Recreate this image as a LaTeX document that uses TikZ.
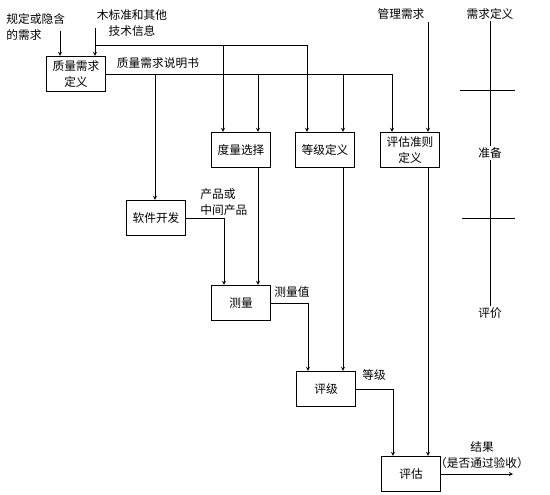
\documentclass[tikz,border=0pt]{standalone}
\usepackage{fontspec}
\newfontfamily\cjk{Noto Sans CJK SC}
\usepackage{tikz}

\begin{document}
\begin{tikzpicture}[x=0.03cm, y=-0.03cm, >=stealth,
  font=\cjk\fontsize{10}{13.5}\selectfont,
  box/.style={draw, line width=1pt, align=center, minimum width=1.77cm,
    minimum height=1.05cm, inner sep=1pt},
  note/.style={align=left, inner sep=1pt},
  flow/.style={line width=0.6pt}]
  \useasboundingbox (0,0) rectangle (550,495);

  % process boxes
  \node[box] (qdef) at (76,74) {质量需求\\定义};
  \node[box] (msel) at (241,150) {度量选择};
  \node[box] (gdef) at (325,150) {等级定义};
  \node[box] (edef) at (410,150) {评估准则\\定义};
  \node[box] (dev) at (156,218) {软件开发};
  \node[box] (meas) at (241,303) {测量};
  \node[box] (grade) at (326,389) {评级};
  \node[box] (eval) at (411,474) {评估};

  % texts
  \node[note, anchor=west] (need) at (5,27) {规定或隐含\\的需求};
  \node[note, align=center] (tech) at (132,23) {木标准和其他\\技术信息};
  \node[note] (spec) at (158,63) {质量需求说明书};
  \node[note] (mgmt) at (401,14) {管理需求};
  \node[note, anchor=west] (prod) at (199,202) {产品或\\中间产品};
  \node[note, anchor=west] (mval) at (273,292) {测量值};
  \node[note, anchor=west] (glbl) at (361,375) {等级};
  \node[note, align=center] (res) at (482,455) {结果\\（是否通过验收）};

  % phases
  \node[note] (ph1) at (490,14) {需求定义};
  \node[note] (ph2) at (490,153) {准备};
  \node[note] (ph3) at (490,313) {评价};

  \coordinate (in1) at (60,31);
  \coordinate (in2) at (95,28);
  \coordinate (split) at (95,45);
  \coordinate (tk1) at (223,45);
  \coordinate (tk2) at (307,45);
  \coordinate (sp1) at (155,74);
  \coordinate (sp2) at (258,74);
  \coordinate (sp3) at (343,74);
  \coordinate (sp4) at (392,74);
  \coordinate (mg) at (428,22);
  \coordinate (pj) at (224,218);
  \coordinate (mj) at (308,303);
  \coordinate (gj) at (393,389);
  \coordinate (out) at (513,474);

  % inputs
  \draw[flow, ->] (in1) -- (in1 |- qdef.north);
  \draw[flow, ->] (in2) -- (in2 |- qdef.north);
  \draw[flow] (split) -- (tk2);
  \draw[flow, ->] (tk1) -- (tk1 |- msel.north);
  \draw[flow, ->] (tk2) -- (tk2 |- gdef.north);

  % specification
  \draw[flow] (qdef.east) -- (sp4);
  \draw[flow, ->] (sp1) -- (sp1 |- dev.north);
  \draw[flow, ->] (sp2) -- (sp2 |- msel.north);
  \draw[flow, ->] (sp3) -- (sp3 |- gdef.north);
  \draw[flow, ->] (sp4) -- (sp4 |- edef.north);
  \draw[flow, ->] (mg) -- (mg |- edef.north);

  % evaluation chain
  \draw[flow, ->] (dev.east) -- (pj) -- (pj |- meas.north);
  \draw[flow, ->] (sp2 |- msel.south) -- (sp2 |- meas.north);
  \draw[flow, ->] (meas.east) -- (mj) -- (mj |- grade.north);
  \draw[flow, ->] (sp3 |- gdef.south) -- (sp3 |- grade.north);
  \draw[flow, ->] (grade.east) -- (gj) -- (gj |- eval.north);
  \draw[flow, ->] (mg |- edef.south) -- (mg |- eval.north);
  \draw[flow, ->] (eval.east) -- (out);

  % phase line
  \draw[flow] (ph1.south) -- (ph2.north);
  \draw[flow] (ph2.south) -- (ph3.north);
  \draw[flow] (460,90) -- (515,90);
  \draw[flow] (462,218) -- (515,218);
\end{tikzpicture}
\end{document}
